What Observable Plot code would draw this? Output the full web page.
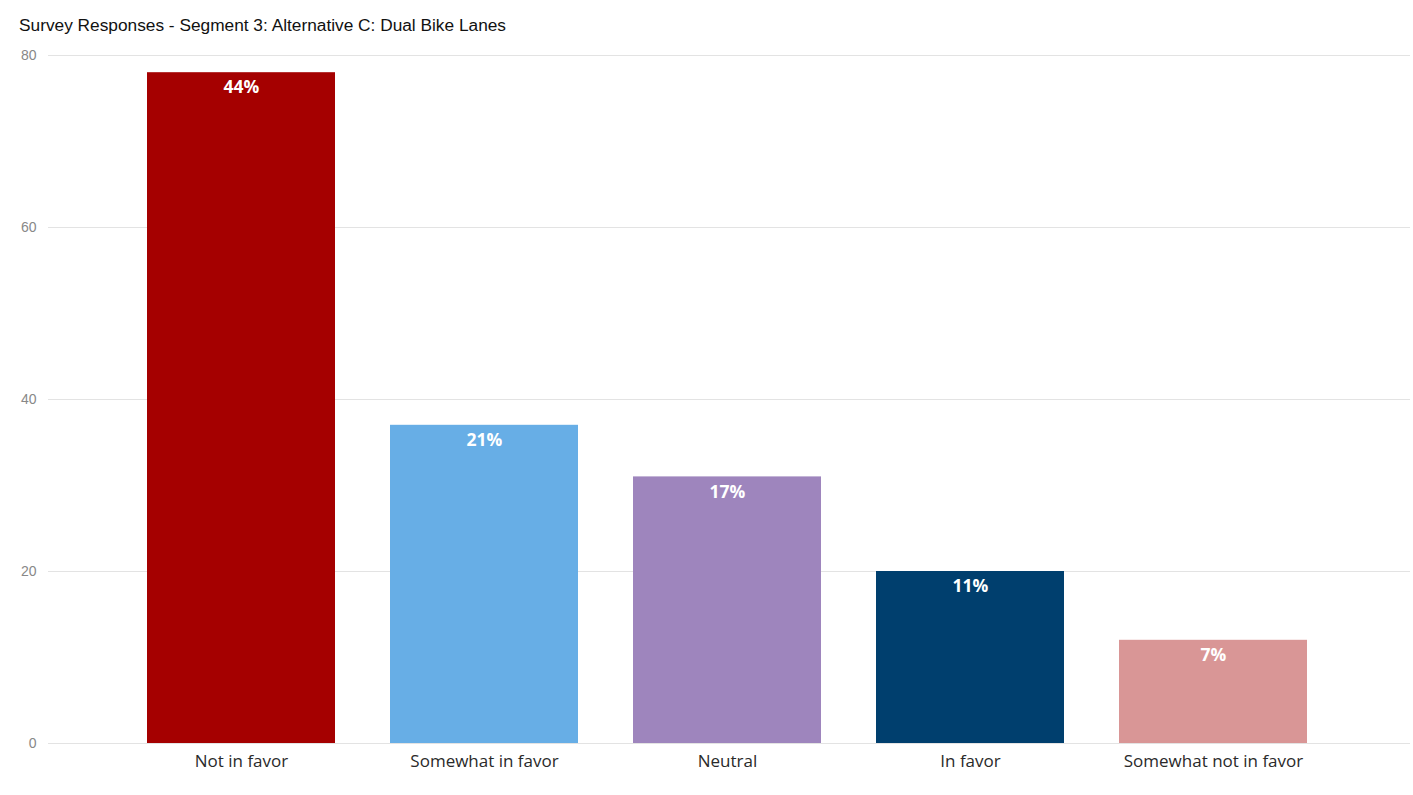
<!DOCTYPE html>
<html>
<head>
<meta charset="utf-8">
<script src="https://cdn.jsdelivr.net/npm/d3@7"></script>
<script src="https://cdn.jsdelivr.net/npm/@observablehq/plot@0.6"></script>
<style>
  body { margin: 0; background: #fff; }
  #title { height: 45px; box-sizing: border-box; padding: 15px 0 0 19px; font-family: "Liberation Sans", Arial, sans-serif; font-size: 17.3px; line-height: 20px; color: #111; }
</style>
</head>
<body>
<div id="title">Survey Responses - Segment 3: Alternative C: Dual Bike Lanes</div>
<div id="chart"></div>
<script>
const categories = ["Not in favor", "Somewhat in favor", "Neutral", "In favor", "Somewhat not in favor"];
const counts = [78, 37, 31, 20, 12];
const percentLabels = ["44%", "21%", "17%", "11%", "7%"];
const colors = ["#a50000", "#67aee6", "#9e85bd", "#003f6e", "#d99696"];
const yTicks = [0, 20, 40, 60, 80];

const data = categories.map((c, i) => ({category: c, count: counts[i], label: percentLabels[i], color: colors[i]}));

const chart = Plot.plot({
  width: 1413,
  height: 750,
  marginTop: 10,
  marginBottom: 52,
  marginLeft: 48,
  marginRight: 3,
  style: {fontFamily: "'Open Sans', sans-serif", background: "#fff"},
  x: {domain: categories, paddingInner: 0.2263, paddingOuter: 0.415, align: 0.49, label: null},
  y: {domain: [0, 80], label: null},
  marks: [
    Plot.ruleY(yTicks, {stroke: "#e3e3e3", strokeWidth: 1}),
    Plot.barY(data, {x: "category", y: "count", fill: "color"}),
    Plot.text(data, {x: "category", y: "count", text: "label", dy: 15, fill: "#fff", fontSize: 17.5, fontWeight: "bold", fontFamily: "'Open Sans', sans-serif"}),
    Plot.axisX({tickSize: 0, tickPadding: 11, fontSize: 17, color: "#2a2a2a", fill: "#2a2a2a", label: null}),
    Plot.axisY({ticks: yTicks, tickSize: 0, tickPadding: 12, fontSize: 14, fill: "#888", color: "#888", fontFamily: "'Liberation Sans', Arial, sans-serif", label: null})
  ]
});
document.getElementById("chart").appendChild(chart);
</script>
</body>
</html>
